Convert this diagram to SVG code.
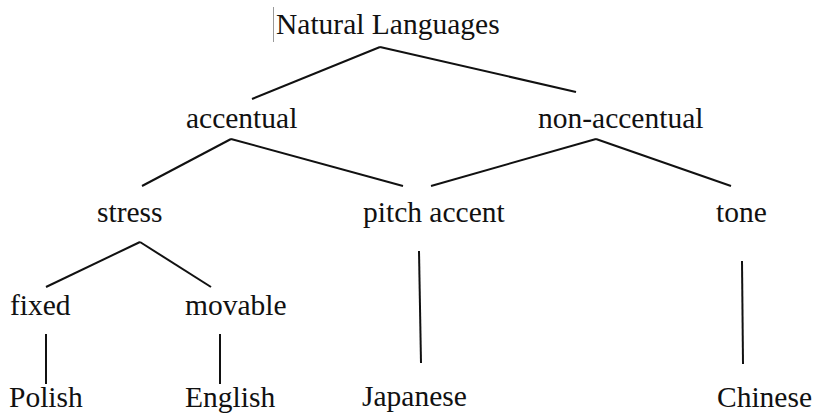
<svg xmlns="http://www.w3.org/2000/svg" width="814" height="415" viewBox="0 0 814 415">
<style>
text{font-family:"Liberation Serif","Times New Roman",serif;font-size:29.5px;fill:#111}
.c line{stroke:#111;stroke-width:2;stroke-linecap:butt}
</style>
<rect width="814" height="415" fill="#fff"/>
<line x1="273.5" y1="7" x2="273.5" y2="42" stroke="#999" stroke-width="1"/>
<g class="c" id="connectors">
<line x1="252" y1="99" x2="380" y2="47"/>
<line x1="380" y1="47" x2="576" y2="92"/>
<line x1="142" y1="186" x2="231" y2="139"/>
<line x1="231" y1="139" x2="403" y2="186"/>
<line x1="431" y1="186" x2="596" y2="139"/>
<line x1="596" y1="139" x2="731" y2="186"/>
<line x1="46" y1="287" x2="140" y2="242"/>
<line x1="140" y1="242" x2="211" y2="287"/>
<line x1="46" y1="334" x2="46" y2="384"/>
<line x1="220" y1="334" x2="220" y2="384"/>
<line x1="419" y1="251" x2="421" y2="363"/>
<line x1="742" y1="261" x2="743" y2="364"/>
</g>
<g id="n-natural"><text x="276" y="34">Natural Languages</text></g>
<g id="n-accentual"><text x="186" y="128">accentual</text></g>
<g id="n-nonaccentual"><text x="538" y="128">non-accentual</text></g>
<g id="n-stress"><text x="97" y="222">stress</text></g>
<g id="n-pitch"><text x="363" y="222">pitch accent</text></g>
<g id="n-tone"><text x="716" y="222">tone</text></g>
<g id="n-fixed"><text x="10" y="315">fixed</text></g>
<g id="n-movable"><text x="185" y="315">movable</text></g>
<g id="n-polish"><text x="9" y="407">Polish</text></g>
<g id="n-english"><text x="185" y="407">English</text></g>
<g id="n-japanese"><text x="362" y="406">Japanese</text></g>
<g id="n-chinese"><text x="717" y="407">Chinese</text></g>
</svg>
